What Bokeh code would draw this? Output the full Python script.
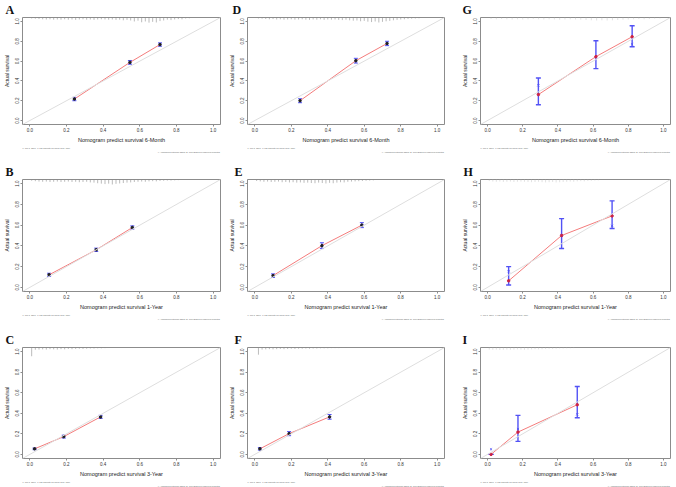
from bokeh.plotting import figure
from bokeh.layouts import gridplot
from bokeh.models import Range1d, FixedTicker, Slope, Whisker, TeeHead, Title, ColumnDataSource
from bokeh.embed import file_html
from bokeh.resources import INLINE

# ---------------- data ----------------
TICKS = [0.0, 0.2, 0.4, 0.6, 0.8, 1.0]
TICK_LABELS = ["0.0", "0.2", "0.4", "0.6", "0.8", "1.0"]
X_TITLES = {"6m": "Nomogram predict survival 6-Month",
            "1y": "Nomogram predict survival 1-Year",
            "3y": "Nomogram predict survival 3-Year"}
Y_TITLE = "Actual survival"
FOOT_LEFT = "n=360 d=128 p=6, 120 subjects per group  Gray: ideal"
FOOT_RIGHT = "X - resampling optimism added, B=1000  Based on observed-predicted"

# Panel A (training, 6-month)
A_pred = [0.243, 0.546, 0.710]
A_obs = [0.217, 0.587, 0.767]
A_lo = [0.200, 0.568, 0.750]
A_hi = [0.234, 0.606, 0.784]
A_bc = [0.214, 0.584, 0.764]
A_rug_x = [0.01, 0.03, 0.05, 0.07, 0.09, 0.11, 0.13, 0.15, 0.17, 0.19, 0.21, 0.23, 0.25, 0.27, 0.29,
           0.31, 0.33, 0.35, 0.37, 0.39, 0.41, 0.43, 0.45, 0.47, 0.49, 0.51, 0.53, 0.55, 0.57, 0.59,
           0.61, 0.63, 0.65, 0.67, 0.69, 0.71, 0.73, 0.75, 0.77, 0.79, 0.81, 0.83, 0.85, 0.87]
A_rug_h = [0.010, 0.012, 0.015, 0.018, 0.020, 0.018, 0.022, 0.020, 0.022, 0.018,
           0.022, 0.020, 0.024, 0.020, 0.018, 0.022, 0.020, 0.024, 0.020, 0.018,
           0.020, 0.022, 0.020, 0.024, 0.022, 0.028, 0.024, 0.030, 0.040, 0.032,
           0.048, 0.040, 0.052, 0.044, 0.050, 0.036, 0.030, 0.022, 0.026, 0.020,
           0.016, 0.018, 0.010, 0.008]

# Panel B (training, 1-year)
B_pred = [0.105, 0.362, 0.559]
B_obs = [0.121, 0.362, 0.577]
B_lo = [0.106, 0.346, 0.561]
B_hi = [0.136, 0.378, 0.593]
B_bc = [0.118, 0.359, 0.574]
B_rug_x = [0.01, 0.03, 0.05, 0.07, 0.09, 0.11, 0.13, 0.15, 0.17, 0.19, 0.21, 0.23, 0.25, 0.27,
           0.29, 0.31, 0.33, 0.35, 0.37, 0.39, 0.41, 0.43, 0.45, 0.47, 0.49, 0.51, 0.53, 0.55,
           0.57, 0.59, 0.61, 0.63, 0.65, 0.67, 0.69, 0.71, 0.73, 0.75, 0.77, 0.79, 0.81]
B_rug_h = [0.012, 0.016, 0.020, 0.022, 0.020, 0.024, 0.022, 0.020, 0.024, 0.022,
           0.020, 0.024, 0.022, 0.026, 0.024, 0.022, 0.028, 0.030, 0.036, 0.040,
           0.044, 0.040, 0.048, 0.042, 0.038, 0.034, 0.030, 0.028, 0.024, 0.022,
           0.020, 0.022, 0.018, 0.016, 0.018, 0.014, 0.012, 0.010, 0.010, 0.008, 0.006]

# Panel C (training, 3-year)
C_pred = [0.026, 0.185, 0.386]
C_obs = [0.054, 0.173, 0.365]
C_lo = [0.046, 0.159, 0.350]
C_hi = [0.062, 0.187, 0.380]
C_bc = [0.052, 0.170, 0.362]
C_rug_x = [0.01, 0.03, 0.05, 0.07, 0.09, 0.11, 0.13, 0.15, 0.17, 0.19, 0.21, 0.23, 0.25, 0.27,
           0.29, 0.31, 0.33, 0.35, 0.37, 0.39, 0.41]
C_rug_h = [0.085, 0.022, 0.020, 0.018, 0.020, 0.016, 0.018, 0.020, 0.016, 0.018, 0.014,
           0.016, 0.014, 0.012, 0.014, 0.012, 0.010, 0.010, 0.008, 0.008, 0.006]

# Panel D (internal validation, 6-month)
D_pred = [0.248, 0.554, 0.725]
D_obs = [0.200, 0.604, 0.778]
D_lo = [0.180, 0.580, 0.756]
D_hi = [0.220, 0.628, 0.800]
D_bc = [0.197, 0.600, 0.775]
D_rug_x = [0.02, 0.04, 0.06, 0.08, 0.10, 0.12, 0.14, 0.16, 0.18, 0.20, 0.22, 0.24, 0.26, 0.28, 0.30,
           0.32, 0.34, 0.36, 0.38, 0.40, 0.42, 0.44, 0.46, 0.48, 0.50, 0.52, 0.54, 0.56, 0.58, 0.60,
           0.62, 0.64, 0.66, 0.68, 0.70, 0.72, 0.74, 0.76, 0.78, 0.80, 0.82, 0.84, 0.86, 0.88, 0.90]
D_rug_h = [0.010, 0.012, 0.015, 0.018, 0.016, 0.020, 0.018, 0.022, 0.020, 0.018,
           0.022, 0.020, 0.018, 0.022, 0.024, 0.020, 0.022, 0.018, 0.024, 0.020,
           0.022, 0.020, 0.024, 0.026, 0.022, 0.028, 0.032, 0.030, 0.038, 0.034,
           0.042, 0.046, 0.040, 0.050, 0.044, 0.038, 0.034, 0.028, 0.024, 0.020,
           0.018, 0.014, 0.012, 0.010, 0.008]

# Panel E (internal validation, 1-year)
E_pred = [0.100, 0.368, 0.587]
E_obs = [0.113, 0.402, 0.600]
E_lo = [0.096, 0.374, 0.576]
E_hi = [0.130, 0.430, 0.624]
E_bc = [0.110, 0.398, 0.597]
E_rug_x = [0.01, 0.03, 0.05, 0.07, 0.09, 0.11, 0.13, 0.15, 0.17, 0.19, 0.21, 0.23, 0.25, 0.27,
           0.29, 0.31, 0.33, 0.35, 0.37, 0.39, 0.41, 0.43, 0.45, 0.47, 0.49, 0.51, 0.53, 0.55,
           0.57, 0.59, 0.61, 0.63, 0.65]
E_rug_h = [0.014, 0.018, 0.022, 0.020, 0.024, 0.022, 0.020, 0.026, 0.024, 0.028,
           0.026, 0.030, 0.028, 0.032, 0.030, 0.034, 0.036, 0.030, 0.034, 0.038,
           0.032, 0.036, 0.030, 0.026, 0.028, 0.022, 0.020, 0.018, 0.016, 0.014,
           0.012, 0.010, 0.008]

# Panel F (internal validation, 3-year)
F_pred = [0.028, 0.188, 0.410]
F_obs = [0.054, 0.202, 0.365]
F_lo = [0.042, 0.182, 0.342]
F_hi = [0.066, 0.222, 0.388]
F_bc = [0.052, 0.199, 0.362]
F_rug_x = [0.02, 0.04, 0.06, 0.08, 0.10, 0.12, 0.14, 0.16, 0.18, 0.20, 0.22, 0.24, 0.26, 0.28,
           0.30, 0.32, 0.34, 0.36, 0.38, 0.40, 0.42, 0.44, 0.46, 0.48, 0.50]
F_rug_h = [0.070, 0.020, 0.018, 0.016, 0.018, 0.016, 0.014, 0.016, 0.014, 0.012, 0.014,
           0.012, 0.012, 0.010, 0.012, 0.010, 0.010, 0.008, 0.008, 0.008, 0.006, 0.006,
           0.006, 0.005, 0.005]

# Panel G (external validation, 6-month)
G_pred = [0.289, 0.616, 0.822]
G_obs = [0.262, 0.645, 0.846]
G_lo = [0.160, 0.524, 0.745]
G_hi = [0.430, 0.806, 0.957]
G_bc = [0.355, 0.640, 0.770]
G_rug_x = [0.02, 0.05, 0.08, 0.11, 0.14, 0.17, 0.20, 0.23, 0.26, 0.29, 0.32, 0.35, 0.38, 0.41,
           0.44, 0.47, 0.50, 0.53, 0.56, 0.59, 0.62, 0.65, 0.68, 0.71, 0.74, 0.77, 0.80, 0.83,
           0.86, 0.89, 0.92, 0.95, 0.98]
G_rug_h = [0.015, 0.018, 0.015, 0.018, 0.020, 0.018, 0.020, 0.018, 0.015, 0.018, 0.020,
           0.018, 0.020, 0.022, 0.020, 0.018, 0.020, 0.022, 0.025, 0.028, 0.030, 0.028,
           0.030, 0.028, 0.025, 0.022, 0.020, 0.018, 0.015, 0.018, 0.015, 0.012, 0.010]

# Panel H (external validation, 1-year)
H_pred = [0.120, 0.421, 0.708]
H_obs = [0.063, 0.500, 0.689]
H_lo = [0.022, 0.374, 0.568]
H_hi = [0.200, 0.663, 0.834]
H_bc = [0.155, 0.500, 0.593]
H_rug_x = [0.01, 0.03, 0.05, 0.07, 0.09, 0.11, 0.13, 0.15, 0.17, 0.19, 0.21, 0.23, 0.25, 0.27,
           0.29, 0.31, 0.33, 0.35, 0.37, 0.39, 0.41, 0.43, 0.45, 0.47, 0.49, 0.51, 0.53, 0.55,
           0.57, 0.59, 0.61, 0.63]
H_rug_h = [0.015, 0.020, 0.022, 0.020, 0.024, 0.022, 0.020, 0.024, 0.022, 0.020, 0.022,
           0.024, 0.026, 0.024, 0.022, 0.026, 0.028, 0.026, 0.024, 0.028, 0.026, 0.024,
           0.022, 0.020, 0.022, 0.018, 0.016, 0.018, 0.014, 0.012, 0.010, 0.008]

# Panel I (external validation, 3-year)
I_pred = [0.020, 0.173, 0.510]
I_obs = [0.000, 0.217, 0.483]
I_lo = [0.000, 0.127, 0.357]
I_hi = [0.000, 0.380, 0.660]
I_bc = [0.050, 0.247, 0.390]
I_rug_x = [0.01, 0.03, 0.05, 0.07, 0.09, 0.11, 0.13, 0.15, 0.17, 0.19, 0.21, 0.23, 0.25, 0.27,
           0.29, 0.31, 0.33, 0.35, 0.37, 0.39, 0.41, 0.43, 0.45, 0.47, 0.49]
I_rug_h = [0.020, 0.022, 0.020, 0.024, 0.022, 0.020, 0.022, 0.020, 0.018, 0.020, 0.022,
           0.020, 0.018, 0.016, 0.018, 0.016, 0.014, 0.012, 0.014, 0.012, 0.010, 0.010,
           0.008, 0.008, 0.006]

# ---------------- style ----------------
LO, HI = -0.04, 1.04
FRAME_COL = "#8c8c8c"
IDEAL_COL = "#dedede"
CAL_COL = "#f47c7c"
BLUE = "#5252f5"
FONT = "Liberation Sans"


def make_panel(letter, period, pred, obs, lo, hi, bc, rug_x, rug_h, ext,
               w, h, bl, br, bt, bb, lx):
    p = figure(width=w, height=h, x_range=Range1d(LO, HI), y_range=Range1d(LO, HI),
               output_backend="svg", toolbar_location=None,
               min_border_left=bl, min_border_right=br,
               min_border_top=bt, min_border_bottom=bb)
    p.title.text = letter
    p.title.text_font = "Liberation Serif"
    p.title.text_font_style = "bold"
    p.title.text_font_size = "12px"
    p.title.text_color = "#111111"
    p.title.align = "left"
    p.title.offset = lx
    p.title.standoff = 1
    p.grid.visible = False
    p.outline_line_color = FRAME_COL
    p.outline_line_width = 1
    p.background_fill_color = "white"
    p.border_fill_color = "white"
    overrides = {t: s for t, s in zip(TICKS, TICK_LABELS)}
    for ax in (p.xaxis[0], p.yaxis[0]):
        ax.ticker = FixedTicker(ticks=TICKS)
        ax.major_label_overrides = overrides
        ax.axis_line_color = None
        ax.major_tick_line_color = FRAME_COL
        ax.major_tick_out = 2
        ax.major_tick_in = 0
        ax.minor_tick_line_color = None
        ax.major_label_text_font = FONT
        ax.major_label_text_font_size = "4.5px"
        ax.major_label_text_color = "#333333"
        ax.major_label_standoff = 1
        ax.axis_label_text_font = FONT
        ax.axis_label_text_font_style = "normal"
        ax.axis_label_text_color = "#222222"
        ax.axis_label_standoff = 3
    p.xaxis[0].axis_label_text_font_size = "5.5px"
    p.xaxis[0].axis_label_standoff = 2
    p.yaxis[0].axis_label_text_font_size = "5px"
    p.yaxis[0].major_label_orientation = "vertical"
    p.xaxis[0].axis_label = X_TITLES[period]
    p.yaxis[0].axis_label = Y_TITLE

    # footnotes under the x axis
    for txt, al in ((FOOT_LEFT, "left"), (FOOT_RIGHT, "right")):
        p.add_layout(Title(text=txt, align=al, text_font=FONT, text_font_size="2px",
                           text_font_style="normal", text_color="#666666", standoff=0),
                     "below")

    # ideal line
    p.add_layout(Slope(gradient=1, y_intercept=0, line_color=IDEAL_COL, line_width=1))

    # rug (distribution of predictions) hanging from the top
    rug_col = "#cfcfcf" if ext else "#8f8f8f"
    p.segment(x0=rug_x, y0=[HI] * len(rug_x), x1=rug_x,
              y1=[HI - v for v in rug_h], line_color=rug_col, line_width=0.6)

    src = ColumnDataSource(dict(pred=pred, obs=obs, lo=lo, hi=hi, bc=bc))
    p.line("pred", "obs", source=src, line_color=CAL_COL, line_width=1)
    lw = 1.4 if ext else 1.0
    cap = 5 if ext else 4
    p.add_layout(Whisker(source=src, base="pred", upper="hi", lower="lo", dimension="height",
                         line_color=BLUE, line_width=lw,
                         upper_head=TeeHead(size=cap, line_color=BLUE, line_width=lw),
                         lower_head=TeeHead(size=cap, line_color=BLUE, line_width=lw)))
    p.scatter("pred", "bc", source=src, marker="x", size=3, line_color=BLUE, line_width=0.8)
    p.scatter("pred", "obs", source=src, size=2.5,
              color="#cc2244" if ext else "#202020")
    return p


# column (width, left border, right border); row (height, top border, bottom border)
COLS = [(225, 20, 5), (230, 20, 11), (221, 25, 6)]
ROWS = [(155, 16, 31), (165, 24, 28), (167, 27, 25)]


def panel(letter, period, col, row, data, ext, lx):
    c, r = COLS[col], ROWS[row]
    return make_panel(letter, period, *data, ext, c[0], r[0], c[1], c[2], r[1], r[2], lx)


A = panel("A", "6m", 0, 0, (A_pred, A_obs, A_lo, A_hi, A_bc, A_rug_x, A_rug_h), False, -17)
B = panel("B", "1y", 0, 1, (B_pred, B_obs, B_lo, B_hi, B_bc, B_rug_x, B_rug_h), False, -17)
C = panel("C", "3y", 0, 2, (C_pred, C_obs, C_lo, C_hi, C_bc, C_rug_x, C_rug_h), False, -17)
D = panel("D", "6m", 1, 0, (D_pred, D_obs, D_lo, D_hi, D_bc, D_rug_x, D_rug_h), False, -15)
E = panel("E", "1y", 1, 1, (E_pred, E_obs, E_lo, E_hi, E_bc, E_rug_x, E_rug_h), False, -13)
F = panel("F", "3y", 1, 2, (F_pred, F_obs, F_lo, F_hi, F_bc, F_rug_x, F_rug_h), False, -13)
G = panel("G", "6m", 2, 0, (G_pred, G_obs, G_lo, G_hi, G_bc, G_rug_x, G_rug_h), True, -18)
H = panel("H", "1y", 2, 1, (H_pred, H_obs, H_lo, H_hi, H_bc, H_rug_x, H_rug_h), True, -17)
I = panel("I", "3y", 2, 2, (I_pred, I_obs, I_lo, I_hi, I_bc, I_rug_x, I_rug_h), True, -18)

grid = gridplot([[A, D, G], [B, E, H], [C, F, I]], toolbar_location=None)

open("out.html", "w").write(file_html(grid, INLINE))
